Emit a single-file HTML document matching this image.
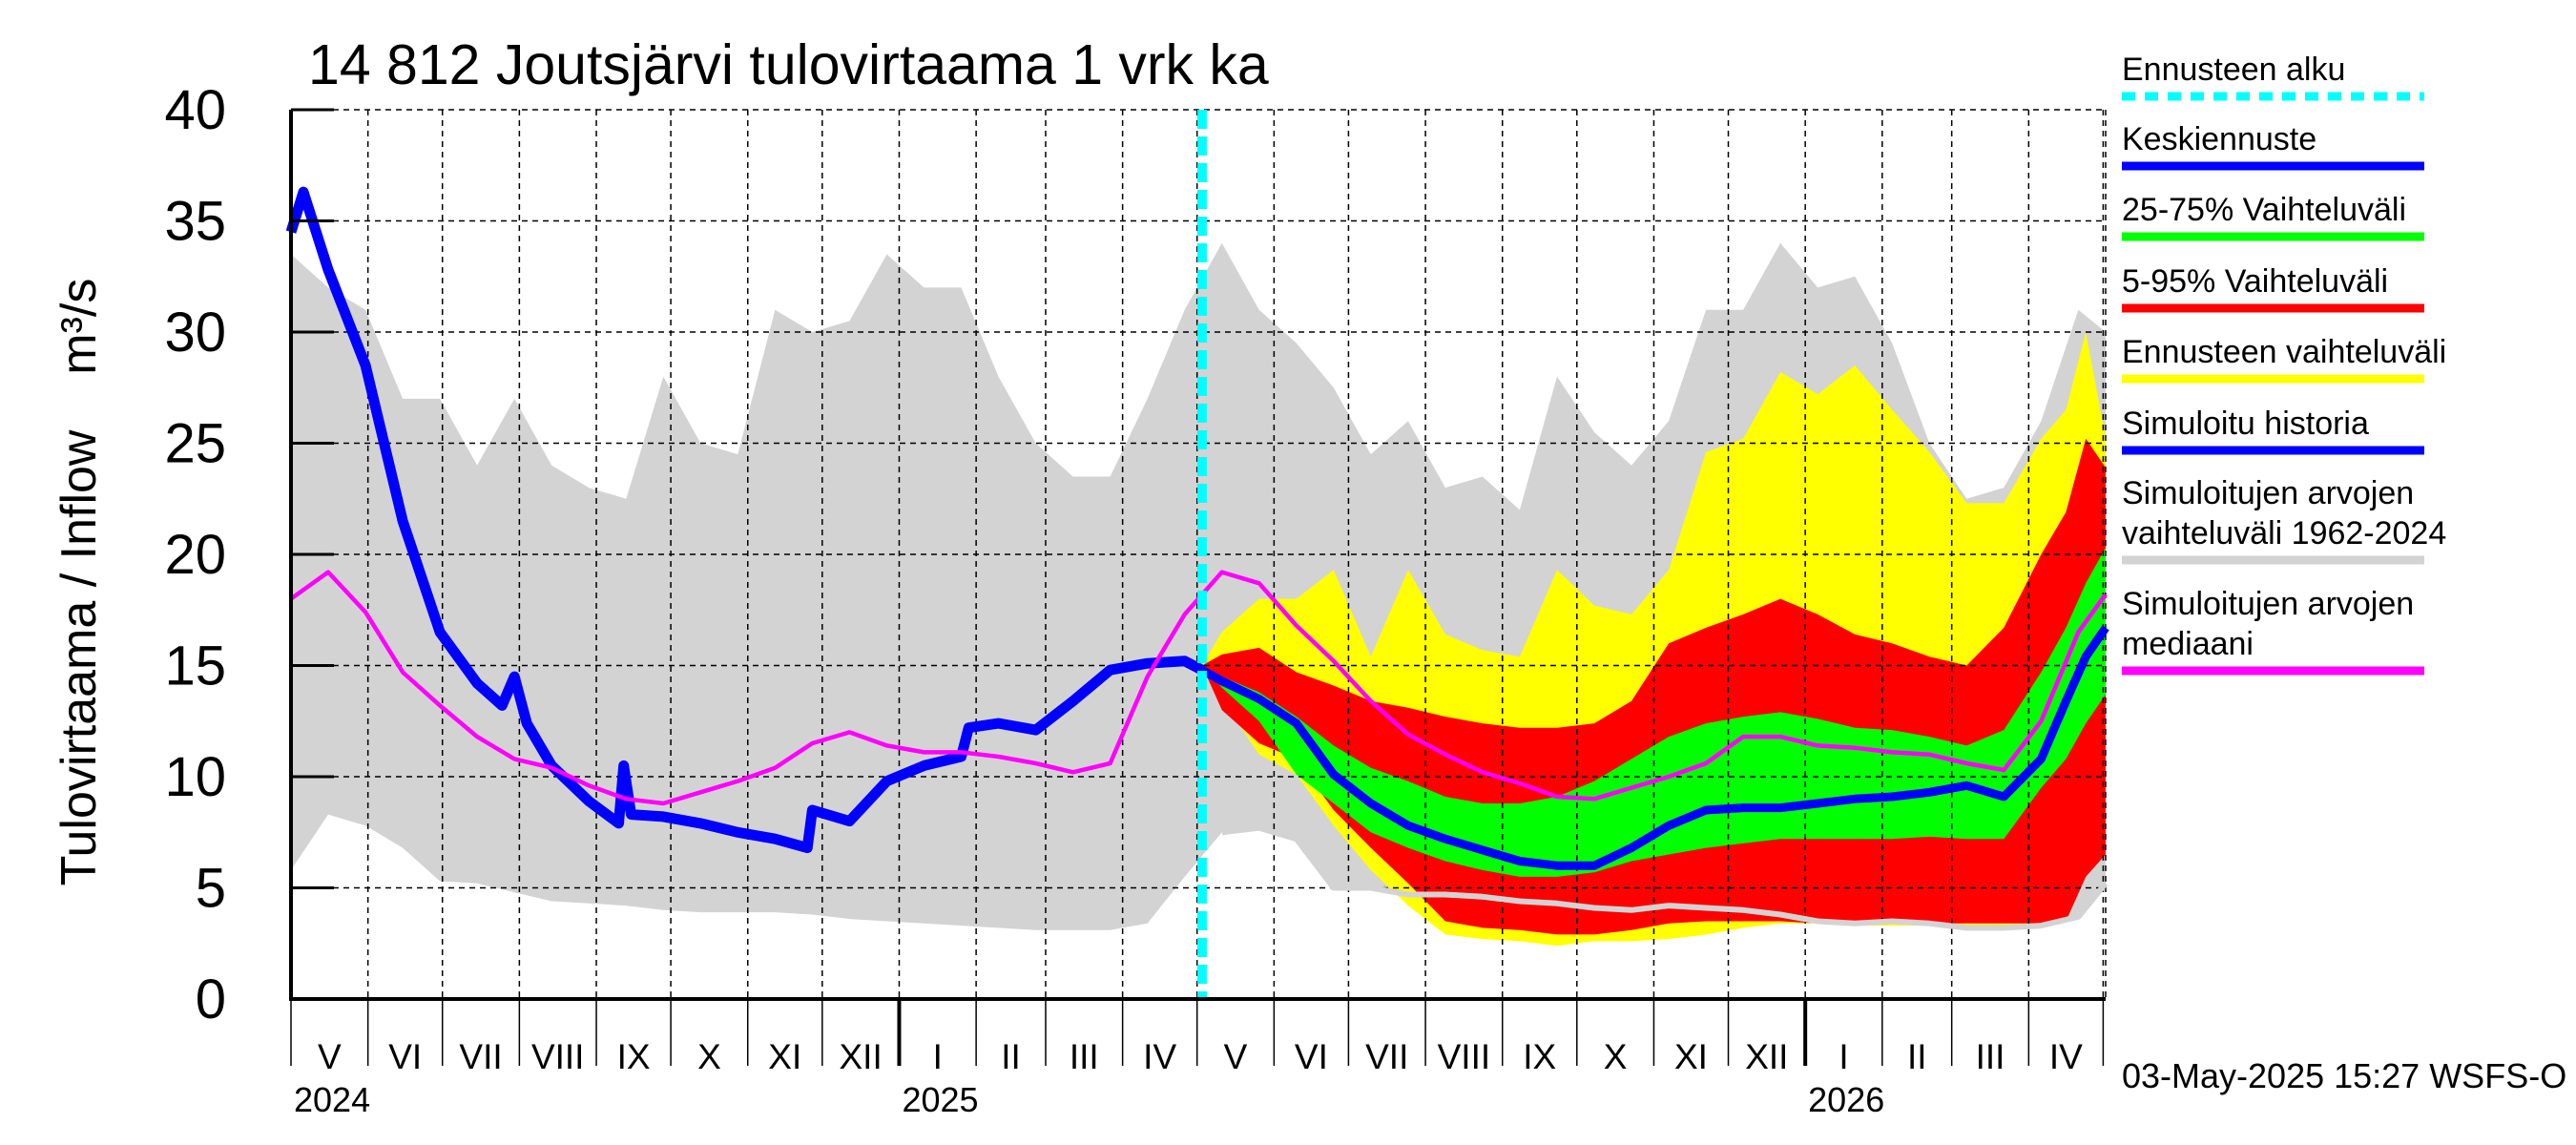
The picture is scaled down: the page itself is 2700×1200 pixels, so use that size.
<!DOCTYPE html>
<html><head><meta charset="utf-8"><style>
html,body{margin:0;padding:0;background:#fff;}
svg{display:block;font-family:"Liberation Sans",sans-serif;}
</style></head><body>
<svg id="chart" width="2700" height="1200" viewBox="0 0 2700 1200" xmlns="http://www.w3.org/2000/svg">
<rect x="0" y="0" width="2700" height="1200" fill="#fff"/>
<g id="bands"></g>
<g id="grid"></g>
<g id="lines"></g>
<g id="axes"></g>
<text x="323" y="88" font-size="59">14 812 Joutsjärvi tulovirtaama 1 vrk ka</text>
<text transform="translate(100,610) rotate(-90)" text-anchor="middle" font-size="52" xml:space="preserve">Tulovirtaama / Inflow    m³/s</text>
<g id="legend" font-size="34"></g>
<text x="2224" y="1140" font-size="36">03-May-2025 15:27 WSFS-O</text>
</svg>
<script>
// ---- data ----
const histDays = [0,15,30,45,60,75,90,105,120,135,150,165,180,195,210,225,240,255,270,285,300,315,330,345,360,375,390,405,420,435,450,465,480,495,510,525,540,555,570,585,600,615,630,645,660,675,690,705,720,731];
const histUpper = [33.5,32,31,27,27,24,27,24,23,22.5,28,25,24.5,31,30,30.5,33.5,32,32,28,25,23.5,23.5,27,31,34,31,29.5,27.5,24.5,26,23,23.5,22,28,25.5,24,26,31,31,34,32,32.5,29.5,25,22.5,23,26,31,30];
const histLower = [5.8,8.3,7.8,6.8,5.3,5.2,4.8,4.4,4.3,4.2,4.0,3.9,3.9,3.9,3.8,3.6,3.5,3.4,3.3,3.2,3.1,3.1,3.1,3.4,5.5,7.5,7.7,7.2,5.0,5.0,4.7,4.7,4.6,4.4,4.3,4.1,4.0,4.2,4.1,4.0,3.8,3.5,3.4,3.5,3.4,3.2,3.2,3.3,3.7,5.2];
const medianValues = [18,19.2,17.4,14.7,13.2,11.8,10.8,10.4,9.6,9.0,8.8,9.3,9.8,10.4,11.5,12.0,11.4,11.1,11.1,10.9,10.6,10.2,10.6,14.5,17.3,19.2,18.7,16.8,15.2,13.4,11.9,11.0,10.2,9.7,9.1,9.0,9.5,10.0,10.6,11.8,11.8,11.4,11.3,11.1,11.0,10.6,10.3,12.5,16.5,18.2];
const simDays = [0,5,15,30,45,60,75,85,90,95,105,120,132,134,137,150,165,180,195,208,210,225,240,255,270,273,285,300,315,330,345,360,367];
const simValues = [34.5,36.3,32.8,28.5,21.5,16.5,14.2,13.2,14.5,12.4,10.5,8.9,7.9,10.5,8.3,8.2,7.9,7.5,7.2,6.8,8.5,8.0,9.8,10.5,10.9,12.2,12.4,12.1,13.4,14.8,15.1,15.2,14.8];
const fcDays = [367,375,390,405,420,435,450,465,480,495,510,525,540,555,570,585,600,615,630,645,660,675,690,705,715,723,731];
const yellowUpper = [15,16.5,18,18,19.3,15.4,19.3,16.4,15.7,15.4,19.3,17.7,17.3,19.3,24.6,25.2,28.2,27.2,28.5,26.5,24.6,22.3,22.3,25.2,26.5,30,25.2];
const yellowLower = [15,13.5,11,10.1,7.8,5.8,4.2,2.9,2.7,2.6,2.4,2.6,2.6,2.7,2.9,3.2,3.4,3.4,3.3,3.3,3.3,3.3,3.3,3.3,4.9,6.2,7.2];
const redUpper = [15,15.5,15.8,14.7,14.1,13.4,13.1,12.7,12.4,12.2,12.2,12.4,13.4,16,16.7,17.3,18,17.3,16.4,16,15.4,15,16.7,20,21.9,25.2,23.9];
const redLower = [15,13,11.5,10.8,8.5,6.8,5.2,3.5,3.2,3.1,2.9,2.9,3.1,3.4,3.5,3.5,3.5,3.4,3.4,3.4,3.4,3.4,3.4,3.4,3.5,5.5,6.5];
const greenUpper = [15,14.5,13.8,12.7,11.4,10.4,9.8,9.1,8.8,8.8,9.1,9.8,10.8,11.8,12.4,12.7,12.9,12.6,12.2,12.1,11.8,11.4,12.1,14.7,16.7,18.7,20.3];
const greenLower = [15,14,12.5,10.1,8.8,7.5,6.8,6.2,5.8,5.5,5.5,5.7,6.2,6.5,6.8,7.0,7.2,7.2,7.2,7.2,7.3,7.2,7.2,9.5,10.8,12.4,13.7];
const fcMedian = [14.8,14.3,13.5,12.4,10.1,8.8,7.8,7.2,6.7,6.2,6.0,6.0,6.8,7.8,8.5,8.6,8.6,8.8,9.0,9.1,9.3,9.6,9.1,10.8,13.4,15.4,16.7];
const yTicks = [0,5,10,15,20,25,30,35,40];
const monthStarts = [0,31,61,92,123,153,184,214,245,276,304,335,365,396,426,457,488,518,549,579,610,641,669,700,730];
const monthLabels = ["V","VI","VII","VIII","IX","X","XI","XII","I","II","III","IV","V","VI","VII","VIII","IX","X","XI","XII","I","II","III","IV"];
const yearLabels = ["2024","2025","2026"];
const yearDays = [0,245,610];
const forecastStartDay = 367;
const legendLabels = [["Ennusteen alku"],["Keskiennuste"],["25-75% Vaihteluväli"],["5-95% Vaihteluväli"],["Ennusteen vaihteluväli"],["Simuloitu historia"],["Simuloitujen arvojen","vaihteluväli 1962-2024"],["Simuloitujen arvojen","mediaani"]];
const legendColors = ["#00ffff","#0000ff","#00ff00","#ff0000","#ffff00","#0000ff","#d3d3d3","#ff00ff"];

// ---- scales ----
const X0=305, X1=2207, Y0=1047, Y1=115, DMAX=731, VMAX=40;
const sx = d => X0 + d*(X1-X0)/DMAX;
const sy = v => Y0 - v*(Y0-Y1)/VMAX;
const NS="http://www.w3.org/2000/svg";
function mk(tag, parent, attrs){const e=document.createElementNS(NS,tag);for(const k in attrs)e.setAttribute(k,attrs[k]);parent.appendChild(e);return e;}
function bandPts(days, up, lo){const a=[];for(let i=0;i<days.length;i++)a.push(sx(days[i]).toFixed(1)+","+sy(up[i]).toFixed(1));for(let i=days.length-1;i>=0;i--)a.push(sx(days[i]).toFixed(1)+","+sy(lo[i]).toFixed(1));return a.join(" ");}
function linePts(days, v){return days.map((d,i)=>sx(d).toFixed(1)+","+sy(v[i]).toFixed(1)).join(" ");}

const bands=document.getElementById('bands'), lines=document.getElementById('lines'), grid=document.getElementById('grid'), axes=document.getElementById('axes'), legend=document.getElementById('legend');

let e;
e=mk('polygon',bands,{points:bandPts(histDays,histUpper,histLower),fill:'#d3d3d3'});


e=mk('polygon',bands,{points:bandPts(fcDays,yellowUpper,yellowLower),fill:'#ffff00'});


e=mk('polygon',bands,{points:bandPts(fcDays,redUpper,redLower),fill:'#ff0000'});


e=mk('polygon',bands,{points:bandPts(fcDays,greenUpper,greenLower),fill:'#00ff00'});



// grid
yTicks.forEach(v=>{ if(v===0) return;
  e=mk('line',grid,{x1:X0,x2:X1,y1:sy(v),y2:sy(v),stroke:'#000','stroke-width':1.5,'stroke-dasharray':'6,5'});
  
  
});
monthStarts.forEach(d=>{ if(d===0) return;
  e=mk('line',grid,{x1:sx(d),x2:sx(d),y1:Y1,y2:Y0,stroke:'#000','stroke-width':1.5,'stroke-dasharray':'6,5'});
  
  
});
e=mk('line',grid,{x1:X1,x2:X1,y1:Y1,y2:Y0,stroke:'#000','stroke-width':1.5,'stroke-dasharray':'6,5'});



// lines
const hlStart = histDays.findIndex(d=>d>=375);
e=mk('polyline',lines,{points:linePts(histDays.slice(hlStart),histLower.slice(hlStart)),fill:'none',stroke:'#d3d3d3','stroke-width':6,'stroke-linejoin':'round'});


e=mk('polyline',lines,{points:linePts(simDays,simValues),fill:'none',stroke:'#0000ff','stroke-width':11,'stroke-linejoin':'round'});


e=mk('polyline',lines,{points:linePts(fcDays,fcMedian),fill:'none',stroke:'#0000ff','stroke-width':9,'stroke-linejoin':'round'});


e=mk('polyline',lines,{points:linePts(histDays,medianValues),fill:'none',stroke:'#ff00ff','stroke-width':4.5,'stroke-linejoin':'round'});


e=mk('line',lines,{x1:sx(forecastStartDay),x2:sx(forecastStartDay),y1:Y1,y2:Y0,stroke:'#00ffff','stroke-width':10,'stroke-dasharray':'20,8'});



// axes
e=mk('line',axes,{x1:X0,x2:X0,y1:Y1,y2:Y0+2,stroke:'#000','stroke-width':4});


e=mk('line',axes,{x1:X0-2,x2:X1,y1:Y0,y2:Y0,stroke:'#000','stroke-width':4});


yTicks.forEach(v=>{
  if(v>0){e=mk('line',axes,{x1:X0,x2:X0+45,y1:sy(v),y2:sy(v),stroke:'#000','stroke-width':3});
  
  }
  e=mk('text',axes,{x:237,y:sy(v)+20,'text-anchor':'end','font-size':58});
  e.textContent=String(v);
  
  
});
monthStarts.forEach(d=>{
  const isYear = yearDays.includes(d) && d>0;
  e=mk('line',axes,{x1:sx(d),x2:sx(d),y1:Y0,y2:1117,stroke:'#000','stroke-width':isYear?4:1.5});
  
  
});
monthLabels.forEach((m,i)=>{
  e=mk('text',axes,{x:(sx(monthStarts[i])+sx(monthStarts[i+1]))/2,y:1120,'text-anchor':'middle','font-size':37});
  e.textContent=m;
  
  
});
yearLabels.forEach((y,i)=>{
  e=mk('text',axes,{x:sx(yearDays[i])+3,y:1165,'font-size':36});
  e.textContent=y;
  
  
});

// legend
const legTop=[84,157,231,306,380,455,528,644];
legendLabels.forEach((lab,i)=>{
  lab.forEach((t,j)=>{
    e=mk('text',legend,{x:2224,y:legTop[i]+j*42});
    e.textContent=t;
    
    
  });
  const ly = legTop[i]+(lab.length-1)*42+17;
  const attrs={x1:2224,x2:2541,y1:ly,y2:ly,stroke:legendColors[i],'stroke-width':9};
  if(i===0) attrs['stroke-dasharray']='14,10';
  e=mk('line',legend,attrs);
  
  
});
</script>
</body></html>
